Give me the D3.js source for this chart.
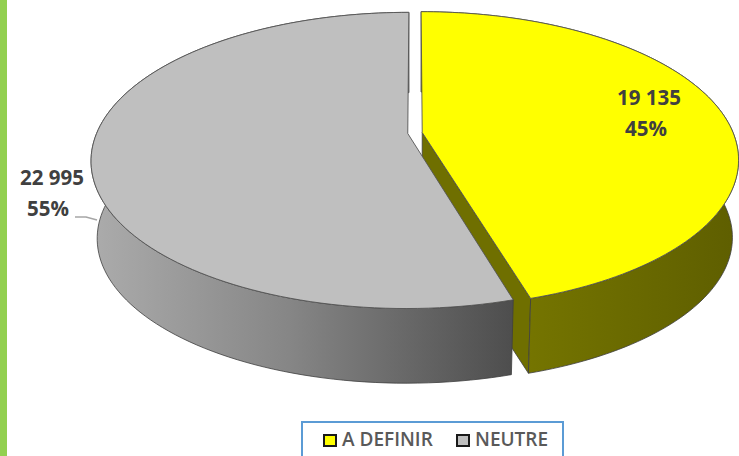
<!DOCTYPE html>
<html>
<head>
<meta charset="utf-8">
<script src="https://cdn.jsdelivr.net/npm/d3@7"></script>
<style>
  html, body { margin: 0; padding: 0; background: #fff; }
  svg { display: block; }
  text { font-family: "Open Sans", sans-serif; }
</style>
</head>
<body>
<svg id="chart"></svg>
<script>
// data
let categories = ['A DEFINIR', 'NEUTRE']
let values = [19135, 22995]
let valueLabels = ['19 135', '22 995']
let percentLabels = ['45%', '55%']
let topColors = ['#ffff00', '#bfbfbf']

let width = 739
let height = 456

// the tilted pie: circle of radius 1 seen in perspective
let pieX = 415
let pieY = 133
let radiusX = 311
let radiusY = 143
let persp = 0.182
let explode = 0.0235
let depth = 78
let shrink = 0.981

let svg = d3.select('#chart').attr('width', width).attr('height', height)

let pie = d3.pie().sort(null).startAngle(0).endAngle(2 * Math.PI)
let slices = pie(values)

// point at angle (clockwise from 12 o'clock) and radius r on the pie top or bottom
let project = (slice, angle, r, lower) => {
    let mid = (slice.startAngle + slice.endAngle) / 2
    let u0 = explode * Math.sin(mid)
    let v0 = -explode * Math.cos(mid)
    let u = u0 + r * Math.sin(angle)
    let v = v0 - r * Math.cos(angle)
    let s = 1 / (1 - persp * v)
    let x = radiusX * u * s
    let y = radiusY * v * s
    if (lower) {
        return [pieX + x * shrink, pieY + y * shrink + depth]
    }
    return [pieX + x, pieY + y]
}

let arcPoints = (slice, lower) => {
    return d3.range(0, 121).map((i) => {
        let a = slice.startAngle + (slice.endAngle - slice.startAngle) * i / 120
        return project(slice, a, 1, lower)
    })
}

let line = d3.line()

let defs = svg.append('defs')

let addGradient = (id, stops) => {
    let g = defs.append('linearGradient')
        .attr('id', id)
        .attr('gradientUnits', 'userSpaceOnUse')
        .attr('x1', 95).attr('x2', 740).attr('y1', 0).attr('y2', 0)
    stops.forEach((s) => {
        g.append('stop').attr('offset', s[0]).attr('stop-color', s[1])
    })
}
addGradient('wall0', [[0.65, '#767600'], [1, '#5e5e00']])
addGradient('wall1', [[0, '#ababab'], [0.3, '#868686'], [0.47, '#6a6a6a'], [0.65, '#4d4d4d']])

// green strip on the left
svg.append('rect')
    .attr('x', 0).attr('y', 0)
    .attr('width', 7).attr('height', height)
    .attr('fill', '#92d050')

let stroke = '#3f3f3f'

// yellow slice is painted first, grey one overlaps it
slices.forEach((slice, i) => {
    let g = svg.append('g').attr('class', 'slice')

    // cut face that looks at the viewer (only yellow shows one)
    if (i === 0) {
        let end = slice.endAngle
        g.append('path')
            .attr('d', line([
                project(slice, end, 0, false),
                project(slice, end, 1, false),
                project(slice, end, 1, true),
                project(slice, end, 0, true)
            ]) + 'Z')
            .attr('fill', '#6f6f00')
            .attr('stroke', stroke)
            .attr('stroke-width', 0.8)
    }

    // outer wall
    let top = arcPoints(slice, false)
    let bottom = arcPoints(slice, true).reverse()
    g.append('path')
        .attr('d', line(top.concat(bottom)) + 'Z')
        .attr('fill', `url(#wall${i})`)
        .attr('stroke', stroke)
        .attr('stroke-width', 0.8)

    // top face
    let topFace = [project(slice, 0, 0, false)].concat(top)
    g.append('path')
        .attr('d', line(topFace) + 'Z')
        .attr('fill', topColors[i])
        .attr('stroke', '#555')
        .attr('stroke-width', 0.9)
})

// data labels
let labelColor = '#404040'
let labelSpots = [[649, 100, 646, 131], [52, 180, 48, 211]]
labelSpots.forEach((p, i) => {
    svg.append('text')
        .attr('x', p[0]).attr('y', p[1])
        .attr('text-anchor', 'middle')
        .attr('dominant-baseline', 'middle')
        .attr('font-size', 20.5)
        .attr('font-weight', 700)
        .attr('fill', labelColor)
        .text(valueLabels[i])
    svg.append('text')
        .attr('x', p[2]).attr('y', p[3])
        .attr('text-anchor', 'middle')
        .attr('dominant-baseline', 'middle')
        .attr('font-size', 20.5)
        .attr('font-weight', 700)
        .attr('fill', labelColor)
        .text(percentLabels[i])
})

// leader line of the grey label
svg.append('path')
    .attr('d', 'M75,217 L86,217 L97,220')
    .attr('fill', 'none')
    .attr('stroke', '#a6a6a6')
    .attr('stroke-width', 1.5)

// legend
svg.append('rect')
    .attr('x', 302).attr('y', 422)
    .attr('width', 261).attr('height', 50)
    .attr('fill', '#fff')
    .attr('stroke', '#5b9bd5')
    .attr('stroke-width', 2)

let legendKeyX = [324, 457]
let legendTextX = [342, 475]
categories.forEach((c, i) => {
    svg.append('rect')
        .attr('x', legendKeyX[i]).attr('y', 435)
        .attr('width', 12).attr('height', 11)
        .attr('fill', topColors[i])
        .attr('stroke', '#1a1a1a')
        .attr('stroke-width', 2)
    svg.append('text')
        .attr('x', legendTextX[i]).attr('y', 441)
        .attr('dominant-baseline', 'middle')
        .attr('font-size', 19)
        .attr('font-weight', 600)
        .attr('fill', '#595959')
        .text(c)
})
</script>
</body>
</html>
